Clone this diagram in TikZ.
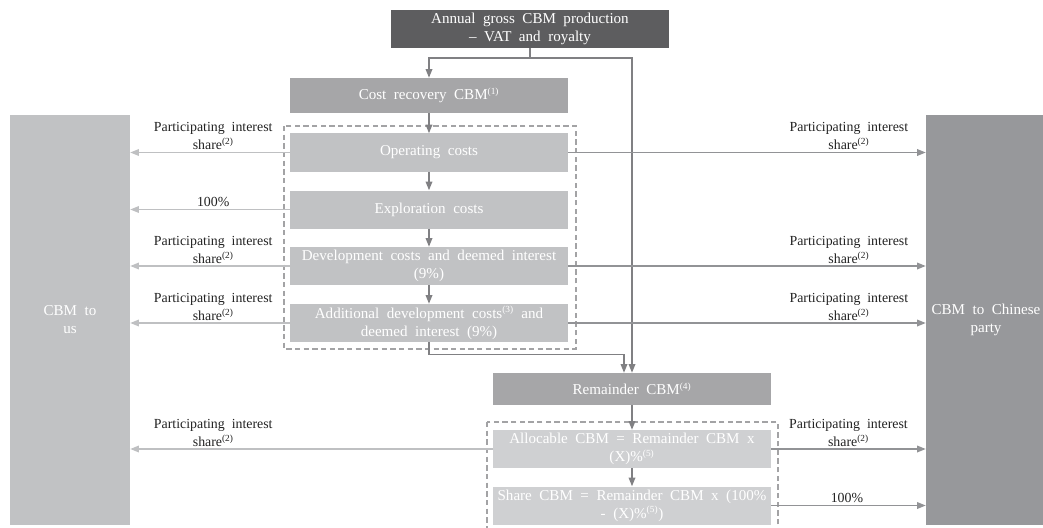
\documentclass[tikz,border=0pt]{standalone}
\usepackage{fontspec}
\setmainfont{Liberation Serif}
\usetikzlibrary{arrows.meta}

\definecolor{boxdark}{HTML}{5D5D5F}
\definecolor{boxmid}{HTML}{A6A6A8}
\definecolor{boxlight}{HTML}{C1C2C4}
\definecolor{boxpale}{HTML}{CFD0D2}
\definecolor{boxcn}{HTML}{97989B}
\definecolor{lnmain}{HTML}{808083}
\definecolor{lnleft}{HTML}{BFC0C2}
\definecolor{lnright}{HTML}{929396}
\definecolor{dashc}{HTML}{A3A3A5}
\definecolor{lbltxt}{HTML}{222222}

\newcommand\supn[1]{\textsuperscript{\scriptsize(#1)}}
\newcommand\boxfont{\fontsize{11.3}{13.5}\selectfont\spaceskip 0.5em\relax}
\newcommand\lblfont{\fontsize{10.4}{13.5}\selectfont\spaceskip 0.5em\relax}

\tikzset{
  flowbox/.style={font=\boxfont, rectangle, draw=none, align=center, text=white,
    inner sep=0pt, minimum width=208.5pt, minimum height=28.5pt},
  sidebox/.style={font=\boxfont, rectangle, draw=none, align=center, text=white,
    inner sep=0pt, minimum width=90pt, minimum height=307.5pt},
  tip/.style={-{Triangle[length=6.5pt,width=5pt]}},
  mainarrow/.style={draw=lnmain, line width=1pt, tip},
  mainline/.style={draw=lnmain, line width=1pt},
  larrow/.style={draw=lnleft, line width=1pt, tip},
  rarrow/.style={draw=lnright, line width=1pt, tip},
  dashbox/.style={draw=dashc, line width=1pt, dash pattern=on 4pt off 2.5pt},
  lbl/.style={font=\lblfont, above=1.5pt, inner sep=0pt, align=center, text=lbltxt},
}

\begin{document}
\begin{tikzpicture}[x=0.75pt, y=-0.75pt]
  \useasboundingbox (0,0) rectangle (1043,528);

  % side recipients
  \node[sidebox, fill=boxlight] (us) at (70,320) {CBM to\\us};
  \node[sidebox, fill=boxcn] (cn) at (986,320) {CBM to Chinese\\party};

  % dashed groups
  \draw[dashbox] (284,126) rectangle (576,349);
  \draw[dashbox] (487,422) rectangle (778,540);

  % main flow boxes
  \node[flowbox, fill=boxdark] (top) at (530,29) {Annual gross CBM production\\– VAT and royalty};
  \node[flowbox, fill=boxmid, minimum height=26.25pt] (cost) at (429,95.5) {Cost recovery CBM\supn{1}};
  \node[flowbox, fill=boxlight] (op) at (429,152.5) {Operating costs};
  \node[flowbox, fill=boxlight] (expl) at (429,209.5) {Exploration costs};
  \node[flowbox, fill=boxlight] (dev) at (429,266) {Development costs and deemed interest\\(9\%)};
  \node[flowbox, fill=boxlight] (add) at (429,323) {Additional development costs\supn{3} and\\deemed interest (9\%)};
  \node[flowbox, fill=boxmid, minimum height=24pt] (rem) at (632,389) {Remainder CBM\supn{4}};
  \node[flowbox, fill=boxpale] (alloc) at (632,449) {Allocable CBM = Remainder CBM x\\(X)\%\supn{5}};
  \node[flowbox, fill=boxpale] (share) at (632,505.5) {Share CBM = Remainder CBM x (100\%\\- (X)\%\supn{5})};

  % vertical flow
  \coordinate (split) at (530,58);
  \draw[mainline] (top.south) -- (split);
  \draw[mainarrow] (split) -| (cost.north);
  \draw[mainarrow] (split) -| (rem.north);
  \draw[mainarrow] (cost.south) -- (op.north);
  \draw[mainarrow] (op.south) -- (expl.north);
  \draw[mainarrow] (expl.south) -- (dev.north);
  \draw[mainarrow] (dev.south) -- (add.north);
  \draw[mainarrow] (add.south) -- ++(0,12) -| ([xshift=-6pt]rem.north);
  \draw[mainarrow] (rem.south) -- (alloc.north);
  \draw[mainarrow] (alloc.south) -- (share.north);

  % shares to us
  \draw[larrow] (op.west) -- node[lbl, pos=0.48] {Participating interest\\share\supn{2}} (op.west -| us.east);
  \draw[larrow] (expl.west) -- node[lbl, pos=0.48] {100\%} (expl.west -| us.east);
  \draw[larrow] (dev.west) -- node[lbl, pos=0.48] {Participating interest\\share\supn{2}} (dev.west -| us.east);
  \draw[larrow] (add.west) -- node[lbl, pos=0.48] {Participating interest\\share\supn{2}} (add.west -| us.east);
  \draw[larrow] (alloc.west) -- node[lbl, pos=0.771] {Participating interest\\share\supn{2}} (alloc.west -| us.east);

  % shares to Chinese party
  \draw[rarrow] (op.east) -- node[lbl, pos=0.785] {Participating interest\\share\supn{2}} (op.east -| cn.west);
  \draw[rarrow] (dev.east) -- node[lbl, pos=0.785] {Participating interest\\share\supn{2}} (dev.east -| cn.west);
  \draw[rarrow] (add.east) -- node[lbl, pos=0.785] {Participating interest\\share\supn{2}} (add.east -| cn.west);
  \draw[rarrow] (alloc.east) -- node[lbl, pos=0.5] {Participating interest\\share\supn{2}} (alloc.east -| cn.west);
  \draw[rarrow] (share.east) -- node[lbl, pos=0.49] {100\%} (share.east -| cn.west);
\end{tikzpicture}
\end{document}
